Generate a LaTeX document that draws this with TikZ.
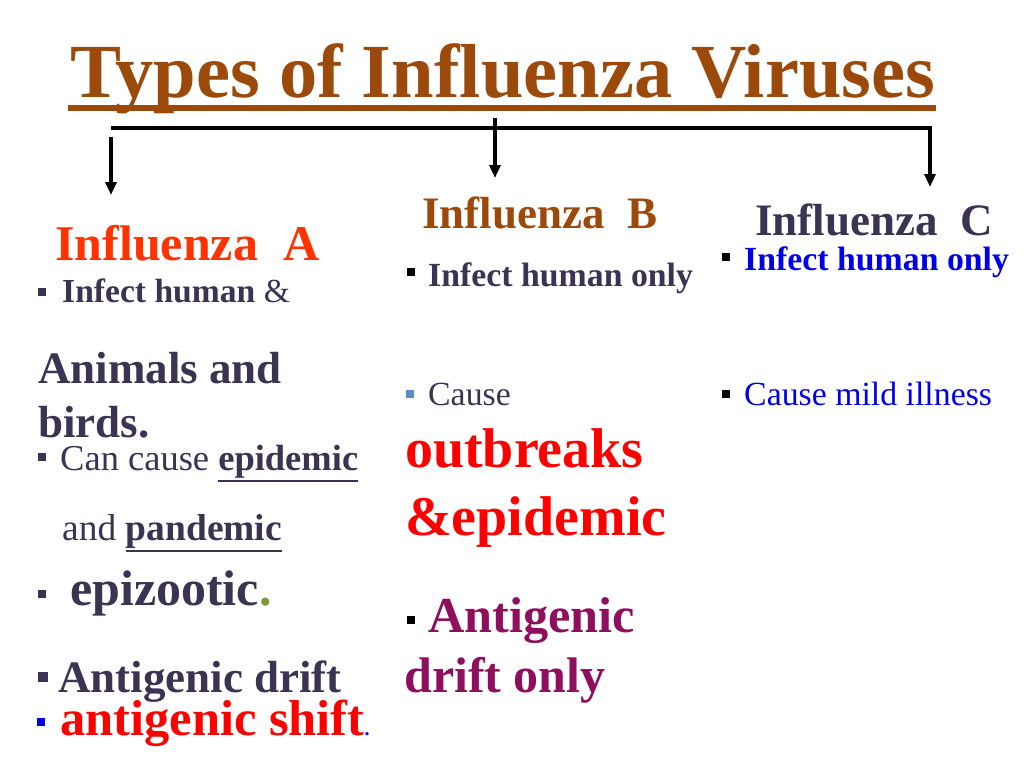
\documentclass[tikz,border=0pt]{standalone}
\usepackage{fontspec}
\setmainfont{Liberation Serif}
\usetikzlibrary{arrows.meta}

\definecolor{titlebrown}{HTML}{9C4A0C}
\definecolor{flua}{HTML}{FF3300}
\definecolor{slate}{HTML}{3B3351}
\definecolor{hotred}{HTML}{FF0000}
\definecolor{plum}{HTML}{8E0F5E}
\definecolor{pureblue}{HTML}{0000E6}
\definecolor{steel}{HTML}{5B8CC4}
\definecolor{olive}{HTML}{7A9A3A}

\newcommand\fs[1]{\fontsize{#1bp}{1.2\dimexpr#1bp\relax}\selectfont}
\newcommand\ulword[1]{\vtop{\hbox{#1}\kern2bp\hrule height 2.5bp}}

\begin{document}
\begin{tikzpicture}[x=1bp,y=-1bp,inner sep=0pt,
  txt/.style={anchor=base west,text=slate},
  bul/.style={fill=black,minimum size=8bp,inner sep=0pt},
  conn/.style={line width=4bp,line join=miter,-{Triangle[length=13bp,width=11bp]}}]

\useasboundingbox (0,0) rectangle (1024,768);

% title
\node[txt,text=titlebrown,font=\fs{76.5}\bfseries] (title) at (70,98)
	{Types of Influenza Viruses};
\draw[titlebrown,line width=6bp] ([xshift=-2bp,yshift=-10bp]title.base west)
	-- ([xshift=1bp,yshift=-10bp]title.base east);

% branches
\coordinate (barL) at (111,128);
\coordinate (barR) at (930,128);
\coordinate (midTop) at (495,118);
\coordinate (startA) at (111,137);
\coordinate (tipA) at (111,195);
\coordinate (tipB) at (495,178);
\coordinate (tipC) at (930,187);

\draw[conn] (barL) -- (barR) -- (tipC);
\draw[conn] (startA) -- (tipA);
\draw[conn] (midTop) -- (tipB);

% influenza A
\node[txt,text=flua,font=\fs{50}\bfseries] (headA) at (55,260) {Influenza~~A};
\node[bul,fill=slate] (bA1) at (42,292) {};
\node[txt,font=\fs{33.6}] (hostA) at (62,302) {\textbf{Infect human} \&};
\node[txt,font=\fs{45}\bfseries,align=left] (animA) at (38,437)
	{Animals and\\birds.};
\node[bul,fill=slate] (bA2) at (42,457) {};
\node[txt,font=\fs{36.5}] (epiA) at (60,470) {Can cause \ulword{\bfseries epidemic}};
\node[txt,font=\fs{37.5}] (panA) at (62,540) {and \ulword{\bfseries pandemic}};
\node[bul,fill=slate] (bA3) at (42,594) {};
\node[txt,font=\fs{50}\bfseries] (zooA) at (70,605)
	{epizootic\textcolor{olive}{.}};
\node[bul,fill=slate,minimum size=10bp] (bA4) at (43,677) {};
\node[txt,font=\fs{45}\bfseries] (driftA) at (58,692) {Antigenic drift};
\node[bul,fill=pureblue] (bA5) at (41,722) {};
\node[txt,text=hotred,font=\fs{50.5}\bfseries] (shiftA) at (60,735)
	{antigenic shift\textcolor{pureblue}{\fs{20}.}};

% influenza B
\node[txt,text=titlebrown,font=\fs{45}\bfseries] (headB) at (422,228) {Influenza~~B};
\node[bul] (bB1) at (411,272) {};
\node[txt,font=\fs{33.8}\bfseries] (hostB) at (428,286) {Infect human only};
\node[bul,fill=steel] (bB2) at (410,394) {};
\node[txt,font=\fs{33.8}] (causeB) at (428,405) {Cause};
\node[txt,text=hotred,font=\fs{56}\bfseries,align=left] (outB) at (405,535)
	{outbreaks\\\&epidemic};
\node[bul] (bB3) at (411,620) {};
\node[txt,text=plum,font=\fs{50.3}\bfseries] (driftB) at (428,632) {Antigenic};
\node[txt,text=plum,font=\fs{50}\bfseries] (onlyB) at (404,692) {drift only};

% influenza C
\node[txt,font=\fs{45}\bfseries] (headC) at (755,235) {Influenza~~C};
\node[bul] (bC1) at (726,257) {};
\node[txt,text=pureblue,font=\fs{33.8}\bfseries] (hostC) at (744,270) {Infect human only};
\node[bul] (bC2) at (726,394) {};
\node[txt,text=pureblue,font=\fs{33.8}] (causeC) at (744,405) {Cause mild illness};

\end{tikzpicture}
\end{document}
